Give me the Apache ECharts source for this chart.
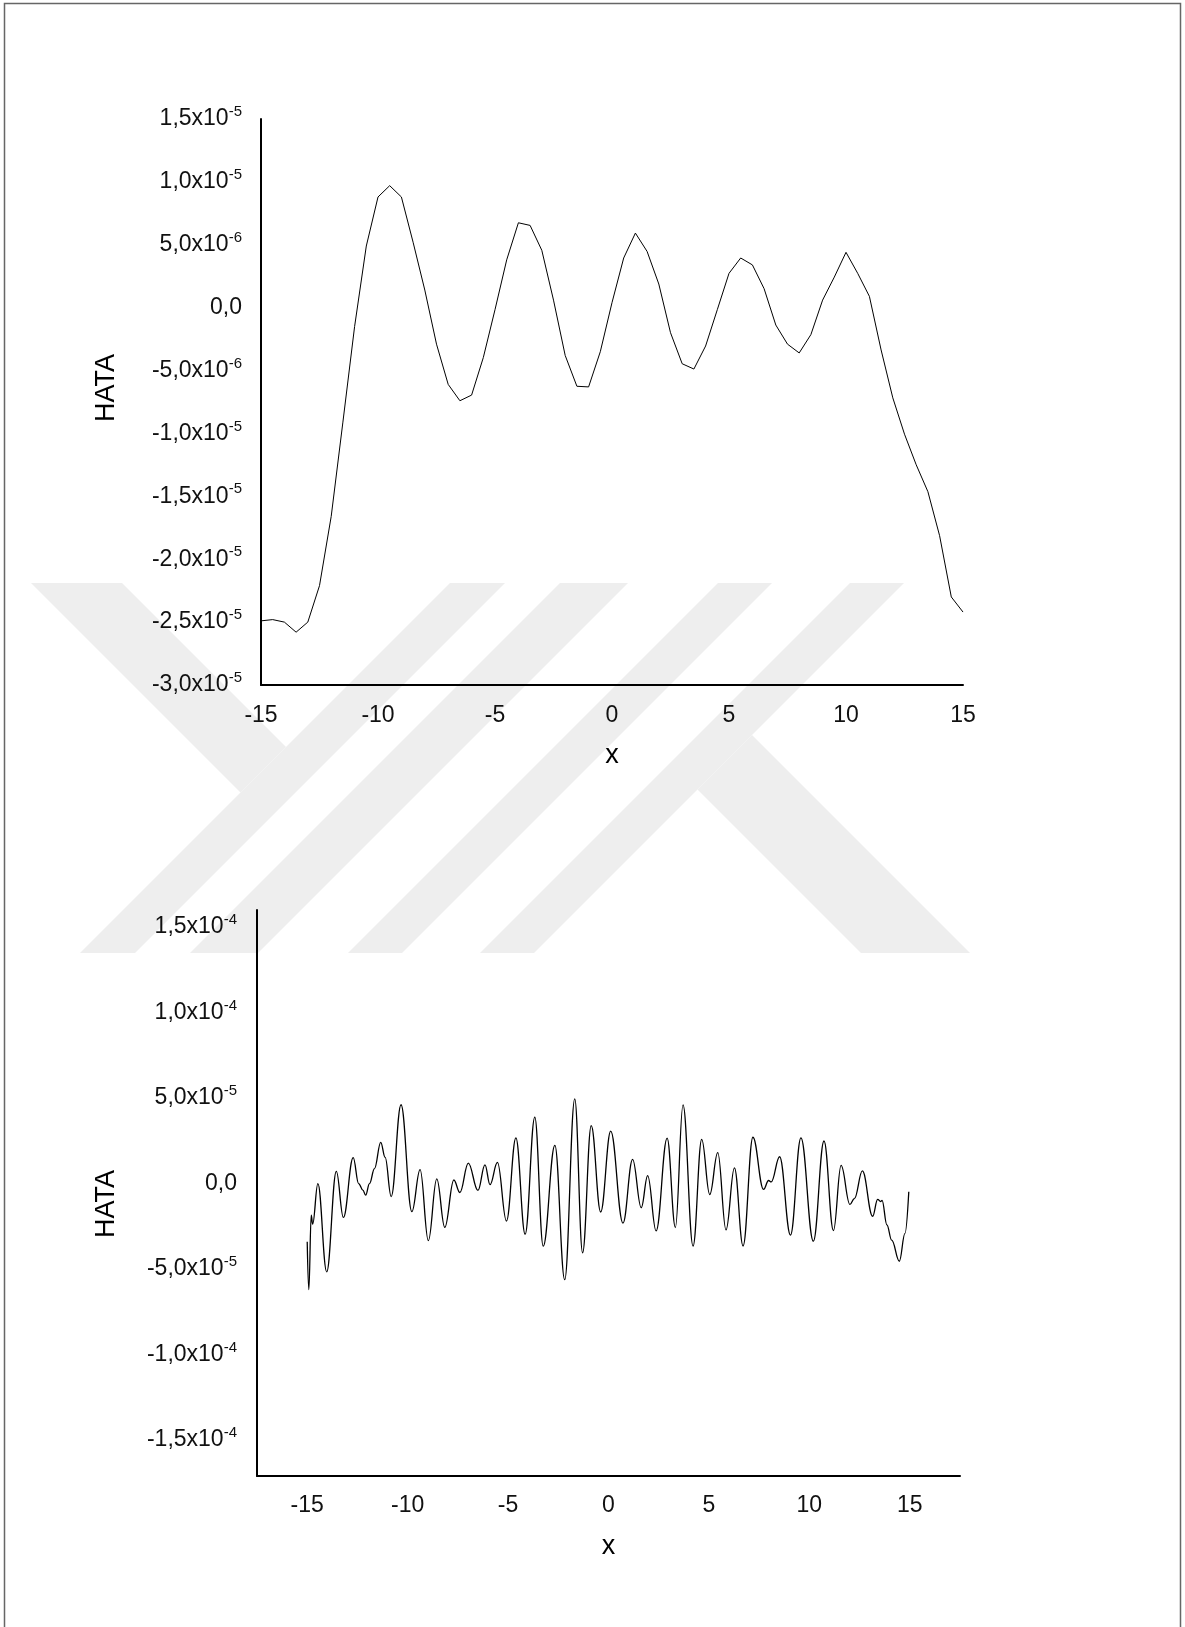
<!DOCTYPE html>
<html>
<head>
<meta charset="utf-8">
<script src="https://cdn.jsdelivr.net/npm/echarts@6/dist/echarts.min.js"></script>
<style>
  html, body { margin: 0; padding: 0; background: #ffffff; }
  #chart { width: 1185px; height: 1627px; }
</style>
</head>
<body>
<div id="chart"></div>
<script>
// ---- Upper plot: error (HATA) sampled every 0.5 on [-15, 15] ----
const topX = [
  -15, -14.5, -14, -13.5, -13, -12.5, -12, -11.5, -11, -10.5,
  -10, -9.5, -9, -8.5, -8, -7.5, -7, -6.5, -6, -5.5,
  -5, -4.5, -4, -3.5, -3, -2.5, -2, -1.5, -1, -0.5,
  0, 0.5, 1, 1.5, 2, 2.5, 3, 3.5, 4, 4.5,
  5, 5.5, 6, 6.5, 7, 7.5, 8, 8.5, 9, 9.5,
  10, 10.5, 11, 11.5, 12, 12.5, 13, 13.5, 14, 14.5, 15
];
const topHata = [
  -24.9e-6, -24.8e-6, -25.0e-6, -25.8e-6, -25.0e-6, -22.1e-6, -16.6e-6, -9.1e-6, -1.5e-6, 4.9e-6,
  8.8e-6, 9.7e-6, 8.8e-6, 5.2e-6, 1.4e-6, -2.9e-6, -6.1e-6, -7.4e-6, -6.95e-6, -3.97e-6,
  -0.16e-6, 3.8e-6, 6.75e-6, 6.54e-6, 4.56e-6, 0.6e-6, -3.8e-6, -6.25e-6, -6.3e-6, -3.5e-6,
  0.4e-6, 3.95e-6, 5.93e-6, 4.47e-6, 1.88e-6, -1.99e-6, -4.46e-6, -4.88e-6, -3.05e-6, -0.16e-6,
  2.73e-6, 3.95e-6, 3.4e-6, 1.51e-6, -1.38e-6, -2.9e-6, -3.6e-6, -2.14e-6, 0.6e-6, 2.43e-6,
  4.4e-6, 2.73e-6, 0.9e-6, -3.36e-6, -7.17e-6, -10.06e-6, -12.49e-6, -14.63e-6, -18.13e-6, -23.0e-6, -24.2e-6
];

// ---- Lower plot: oscillating error, turning points of the curve ----
const bottomX = [
  -15.00, -14.92, -14.80, -14.73, -14.47, -14.03, -13.55, -13.20, -12.71, -12.44,
  -12.23, -12.09, -11.90, -11.65, -11.34, -11.12, -10.82, -10.33, -9.79, -9.38,
  -8.97, -8.55, -8.15, -7.70, -7.40, -6.98, -6.50, -6.15, -5.90, -5.53,
  -5.08, -4.61, -4.15, -3.67, -3.25, -2.67, -2.18, -1.68, -1.29, -0.86,
  -0.39, 0.11, 0.72, 1.20, 1.63, 1.95, 2.37, 2.92, 3.33, 3.71,
  4.21, 4.64, 5.04, 5.44, 5.85, 6.27, 6.70, 7.19, 7.72, 7.97,
  8.10, 8.52, 9.06, 9.58, 10.20, 10.73, 11.20, 11.58, 12.02, 12.24,
  12.64, 13.15, 13.40, 13.55, 13.62, 13.86, 14.10, 14.48, 14.76, 14.95
];
const bottomHata = [
  -3.4e-5, -6.2e-5, -1.85e-5, -2.37e-5, 0.0e-5, -5.16e-5, 0.72e-5, -1.98e-5, 1.52e-5, 0.0e-5,
  -0.38e-5, -0.68e-5, 0.0e-5, 0.88e-5, 2.41e-5, 1.53e-5, -0.76e-5, 4.61e-5, -1.64e-5, 0.82e-5,
  -3.34e-5, 0.28e-5, -2.56e-5, 0.21e-5, -0.52e-5, 1.2e-5, -0.4e-5, 1.1e-5, -0.06e-5, 1.24e-5,
  -2.19e-5, 2.67e-5, -2.96e-5, 3.89e-5, -3.66e-5, 2.24e-5, -5.62e-5, 4.96e-5, -4.05e-5, 3.39e-5,
  -1.66e-5, 3.07e-5, -2.31e-5, 1.42e-5, -1.41e-5, 0.47e-5, -2.77e-5, 2.66e-5, -2.57e-5, 4.6e-5,
  -3.65e-5, 2.59e-5, -0.64e-5, 1.81e-5, -2.71e-5, 0.92e-5, -3.65e-5, 2.71e-5, -0.34e-5, 0.18e-5,
  0.1e-5, 1.57e-5, -3.01e-5, 2.67e-5, -3.37e-5, 2.49e-5, -2.75e-5, 1.06e-5, -1.22e-5, -0.88e-5,
  0.74e-5, -1.91e-5, -0.92e-5, -1.05e-5, -0.98e-5, -2.41e-5, -3.31e-5, -4.54e-5, -2.91e-5, -0.48e-5
];

// ---- Tick values and their printed labels (mantissa, exponent) ----
const xTicks = [-15, -10, -5, 0, 5, 10, 15];
const xTickLabels = ['-15', '-10', '-5', '0', '5', '10', '15'];

const topYTicks = [1.5e-5, 1.0e-5, 5.0e-6, 0, -5.0e-6, -1.0e-5, -1.5e-5, -2.0e-5, -2.5e-5, -3.0e-5];
const topYLabels = [
  ['1,5x10', '-5'], ['1,0x10', '-5'], ['5,0x10', '-6'], ['0,0', ''], ['-5,0x10', '-6'],
  ['-1,0x10', '-5'], ['-1,5x10', '-5'], ['-2,0x10', '-5'], ['-2,5x10', '-5'], ['-3,0x10', '-5']
];

const bottomYTicks = [1.5e-4, 1.0e-4, 5.0e-5, 0, -5.0e-5, -1.0e-4, -1.5e-4];
const bottomYLabels = [
  ['1,5x10', '-4'], ['1,0x10', '-4'], ['5,0x10', '-5'], ['0,0', ''],
  ['-5,0x10', '-5'], ['-1,0x10', '-4'], ['-1,5x10', '-4']
];

const FONT = '"Liberation Sans", Arial, sans-serif';

function pairs(xs, ys) {
  return xs.map(function (x, i) { return [x, ys[i]]; });
}

function lookupLabel(ticks, labels, value) {
  for (let i = 0; i < ticks.length; i++) {
    if (Math.abs(ticks[i] - value) < Math.abs(ticks[0]) * 1e-6 + 1e-15) {
      const l = labels[i];
      return l[1] ? '{m|' + l[0] + '}{s|' + l[1] + '}' : '{m|' + l[0] + '}';
    }
  }
  return '';
}

function xLabel(value) {
  for (let i = 0; i < xTicks.length; i++) {
    if (Math.abs(xTicks[i] - value) < 1e-9) return xTickLabels[i];
  }
  return '';
}

const richLabel = {
  m: { fontFamily: FONT, fontSize: 23, lineHeight: 29, color: '#111' },
  s: { fontFamily: FONT, fontSize: 15, lineHeight: 15, verticalAlign: 'top', color: '#111' }
};

const axisLineStyle = { show: true, onZero: false, lineStyle: { color: '#000', width: 2 } };

// Light grey diagonal bands of the background logo
const bandTop = 583, bandBottom = 953, bandH = bandBottom - bandTop;
function slashBand(x0, x1) {
  return [[x0, bandTop], [x1, bandTop], [x1 - bandH, bandBottom], [x0 - bandH, bandBottom]];
}
const logoShapes = [
  slashBand(450, 505),
  slashBand(560, 628),
  slashBand(718, 772),
  slashBand(850, 904),
  [[31, 583], [122, 583], [286, 747], [240.5, 792.5]],
  [[697.5, 789.5], [752, 735], [970, 953], [861, 953]]
];

const graphics = logoShapes.map(function (pts) {
  return {
    type: 'polygon', z: -10, silent: true,
    shape: { points: pts },
    style: { fill: '#eeeeee', stroke: null }
  };
});
graphics.push({
  type: 'rect', z: 50, silent: true,
  shape: { x: 4.5, y: 3.5, width: 1176, height: 1640 },
  style: { fill: null, stroke: '#666', lineWidth: 1.5 }
});
graphics.push({
  type: 'text', z: 50, silent: true, x: 107, y: 388, rotation: Math.PI / 2,
  style: { text: 'HATA', font: '27px ' + FONT, fill: '#000', align: 'center', verticalAlign: 'middle' }
});
graphics.push({
  type: 'text', z: 50, silent: true, x: 107, y: 1204, rotation: Math.PI / 2,
  style: { text: 'HATA', font: '27px ' + FONT, fill: '#000', align: 'center', verticalAlign: 'middle' }
});

const chart = echarts.init(document.getElementById('chart'), null, { renderer: 'canvas' });

chart.setOption({
  animation: false,
  backgroundColor: '#ffffff',
  graphic: graphics,
  grid: [
    { left: 261, top: 119, width: 702, height: 566, containLabel: false, outerBoundsMode: 'none' },
    { left: 257, top: 910, width: 703, height: 566, containLabel: false, outerBoundsMode: 'none' }
  ],
  xAxis: [
    {
      type: 'value', gridIndex: 0, min: -15, max: 15,
      name: 'x', nameLocation: 'middle', nameGap: 57,
      nameTextStyle: { fontFamily: FONT, fontSize: 27, color: '#000' },
      axisLine: axisLineStyle, axisTick: { show: false }, splitLine: { show: false },
      axisLabel: {
        customValues: xTicks, formatter: xLabel, margin: 19,
        fontFamily: FONT, fontSize: 23, color: '#111'
      }
    },
    {
      type: 'value', gridIndex: 1, min: -17.5, max: 17.5,
      name: 'x', nameLocation: 'middle', nameGap: 57,
      nameTextStyle: { fontFamily: FONT, fontSize: 27, color: '#000' },
      axisLine: axisLineStyle, axisTick: { show: false }, splitLine: { show: false },
      axisLabel: {
        customValues: xTicks, formatter: xLabel, margin: 18,
        fontFamily: FONT, fontSize: 23, color: '#111'
      }
    }
  ],
  yAxis: [
    {
      type: 'value', gridIndex: 0, min: -3.0e-5, max: 1.5e-5,
      axisLine: axisLineStyle, axisTick: { show: false }, splitLine: { show: false },
      axisLabel: {
        customValues: topYTicks, margin: 19,
        formatter: function (v) { return lookupLabel(topYTicks, topYLabels, v); },
        rich: richLabel
      }
    },
    {
      type: 'value', gridIndex: 1, min: -1.71e-4, max: 1.6e-4,
      axisLine: axisLineStyle, axisTick: { show: false }, splitLine: { show: false },
      axisLabel: {
        customValues: bottomYTicks, margin: 20,
        formatter: function (v) { return lookupLabel(bottomYTicks, bottomYLabels, v); },
        rich: richLabel
      }
    }
  ],
  series: [
    {
      type: 'line', xAxisIndex: 0, yAxisIndex: 0,
      data: pairs(topX, topHata),
      showSymbol: false, smooth: false,
      lineStyle: { color: '#000', width: 1 }
    },
    {
      type: 'line', xAxisIndex: 1, yAxisIndex: 1,
      data: pairs(bottomX, bottomHata),
      showSymbol: false, smooth: 0.4, smoothMonotone: 'x',
      lineStyle: { color: '#000', width: 1.3 }
    }
  ]
});
</script>
</body>
</html>
